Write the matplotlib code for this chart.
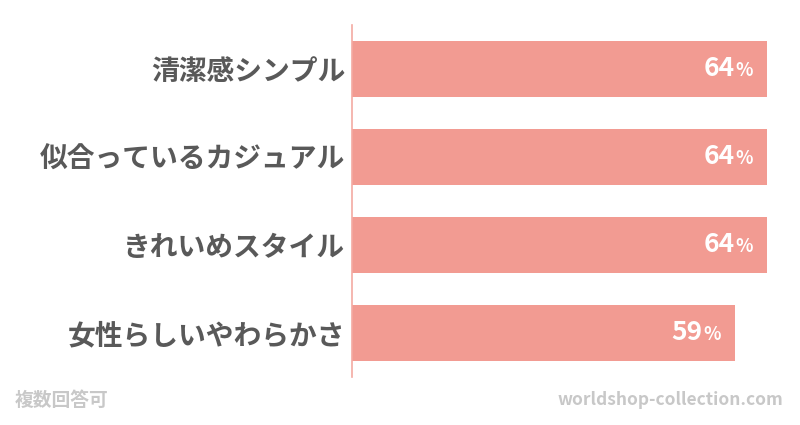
import matplotlib.pyplot as plt

plt.rcParams['font.family'] = ['Noto Sans CJK JP', 'DejaVu Sans']

labels = ['清潔感シンプル', '似合っているカジュアル', 'きれいめスタイル', '女性らしいやわらかさ']
values = [64, 64, 64, 59]

bar_color = '#f29b92'
label_color = '#595959'
note_color = '#c8c8c8'

fig = plt.figure(figsize=(8, 4.25), dpi=100)
# axes placed in pixel terms: left 352, right 785, top 25, bottom 377
ax = fig.add_axes([352 / 800, 1 - 377 / 425, (785 - 352) / 800, 352 / 425])

y = list(range(len(values)))
ax.barh(y, values, height=0.636, color=bar_color)
ax.set_xlim(0, (785 - 352) / 6.484)
ax.set_ylim(len(values) - 0.5, -0.5)

for s in ['top', 'right', 'bottom']:
    ax.spines[s].set_visible(False)
ax.spines['left'].set_color('#f4aaa2')
ax.spines['left'].set_linewidth(1.2)
ax.set_xticks([])
ax.set_yticks(y)
ax.set_yticklabels(labels, fontsize=20, color=label_color, fontweight='bold')
ax.tick_params(axis='y', length=0, pad=5)

for yi, v in zip(y, values):
    ax.annotate('%', xy=(v, yi), xytext=(-10, -1), textcoords='offset points',
                ha='right', va='center', color='white', fontsize=13, fontweight='bold')
    ax.annotate(str(v), xy=(v, yi), xytext=(-23, 0), textcoords='offset points',
                ha='right', va='center', color='white', fontsize=19, fontweight='bold')

fig.text(15 / 800, 1 - 400 / 425, '複数回答可', fontsize=13.5, color=note_color,
         fontweight='bold', va='center', ha='left')
fig.text(783 / 800, 1 - 400 / 425, 'worldshop-collection.com', fontsize=12.5,
         color=note_color, fontweight='bold', va='center', ha='right')

fig.savefig('out.png', dpi=100)
